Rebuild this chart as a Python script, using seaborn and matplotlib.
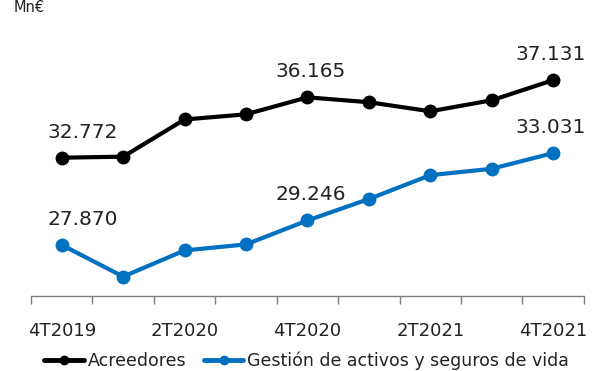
import matplotlib
matplotlib.use("Agg")
import matplotlib.pyplot as plt
import seaborn as sns
import pandas as pd
import numpy as np

quarters = ["4T2019", "1T2020", "2T2020", "3T2020", "4T2020",
            "1T2021", "2T2021", "3T2021", "4T2021"]
acreedores = [32.772, 32.83, 34.92, 35.21, 36.165, 35.89, 35.38, 36.00, 37.131]
gestion = [27.870, 26.09, 27.56, 27.90, 29.246, 30.45, 31.79, 32.15, 33.031]
series_names = ["Acreedores", "Gestión de activos y seguros de vida"]
colors = ["#000000", "#0070C0"]
labelled = [0, 4, 8]

df = pd.concat([
    pd.DataFrame({"idx": range(len(quarters)), "valor": acreedores, "serie": series_names[0]}),
    pd.DataFrame({"idx": range(len(quarters)), "valor": gestion, "serie": series_names[1]}),
])

sns.set_style("white")
plt.rcParams["font.family"] = ["DejaVu Sans"]

fig = plt.figure(figsize=(6.01, 3.71), dpi=100)
ax = fig.add_axes([0.0516, 0.2022, 0.920, 0.6954])

sns.lineplot(data=df, x="idx", y="valor", hue="serie", palette=colors,
             marker="o", markersize=10, markeredgewidth=0, linewidth=3,
             legend=False, ax=ax)

ax.set_xlim(-0.5, len(quarters) - 0.5)
ax.set_ylim(25.0, 39.5)
ax.set_xlabel("")
ax.set_ylabel("")
ax.set_yticks([])

ax.set_xticks(range(0, len(quarters), 2))
ax.set_xticklabels([quarters[i] for i in range(0, len(quarters), 2)], fontsize=13, color="#222222")
ax.set_xticks(np.arange(-0.5, len(quarters), 1.0), minor=True)
ax.tick_params(axis="x", which="major", bottom=False, length=0, pad=19)
ax.tick_params(axis="x", which="minor", bottom=True, length=6, width=1,
               color="#7f7f7f", direction="out")

for s in ["top", "right", "left"]:
    ax.spines[s].set_visible(False)
ax.spines["bottom"].set_color("#7f7f7f")
ax.spines["bottom"].set_linewidth(1)

fmt = lambda v: f"{v:.3f}"
offsets = {0: 0.35, 4: 0.05, 8: -0.05}
for vals in (acreedores, gestion):
    for i in labelled:
        ax.annotate(fmt(vals[i]), (i, vals[i]), xytext=(offsets[i] * 61, 16),
                    textcoords="offset pixels",
                    ha="center", va="bottom", fontsize=14.5, color="#222222")

handles = [plt.Line2D([], [], color=c, marker="o", markersize=6, linewidth=3.5) for c in colors]
fig.legend(handles, series_names, loc="center", bbox_to_anchor=(0.51, 0.027), ncol=2,
           frameon=False, fontsize=12.5, handlelength=2.3, handletextpad=0.2,
           columnspacing=1.0, labelcolor="#222222")

fig.text(0.022, 1.0, "Mn€", fontsize=10.5, ha="left", va="top", color="#222222")

fig.savefig("out.png", dpi=100, facecolor="white")
